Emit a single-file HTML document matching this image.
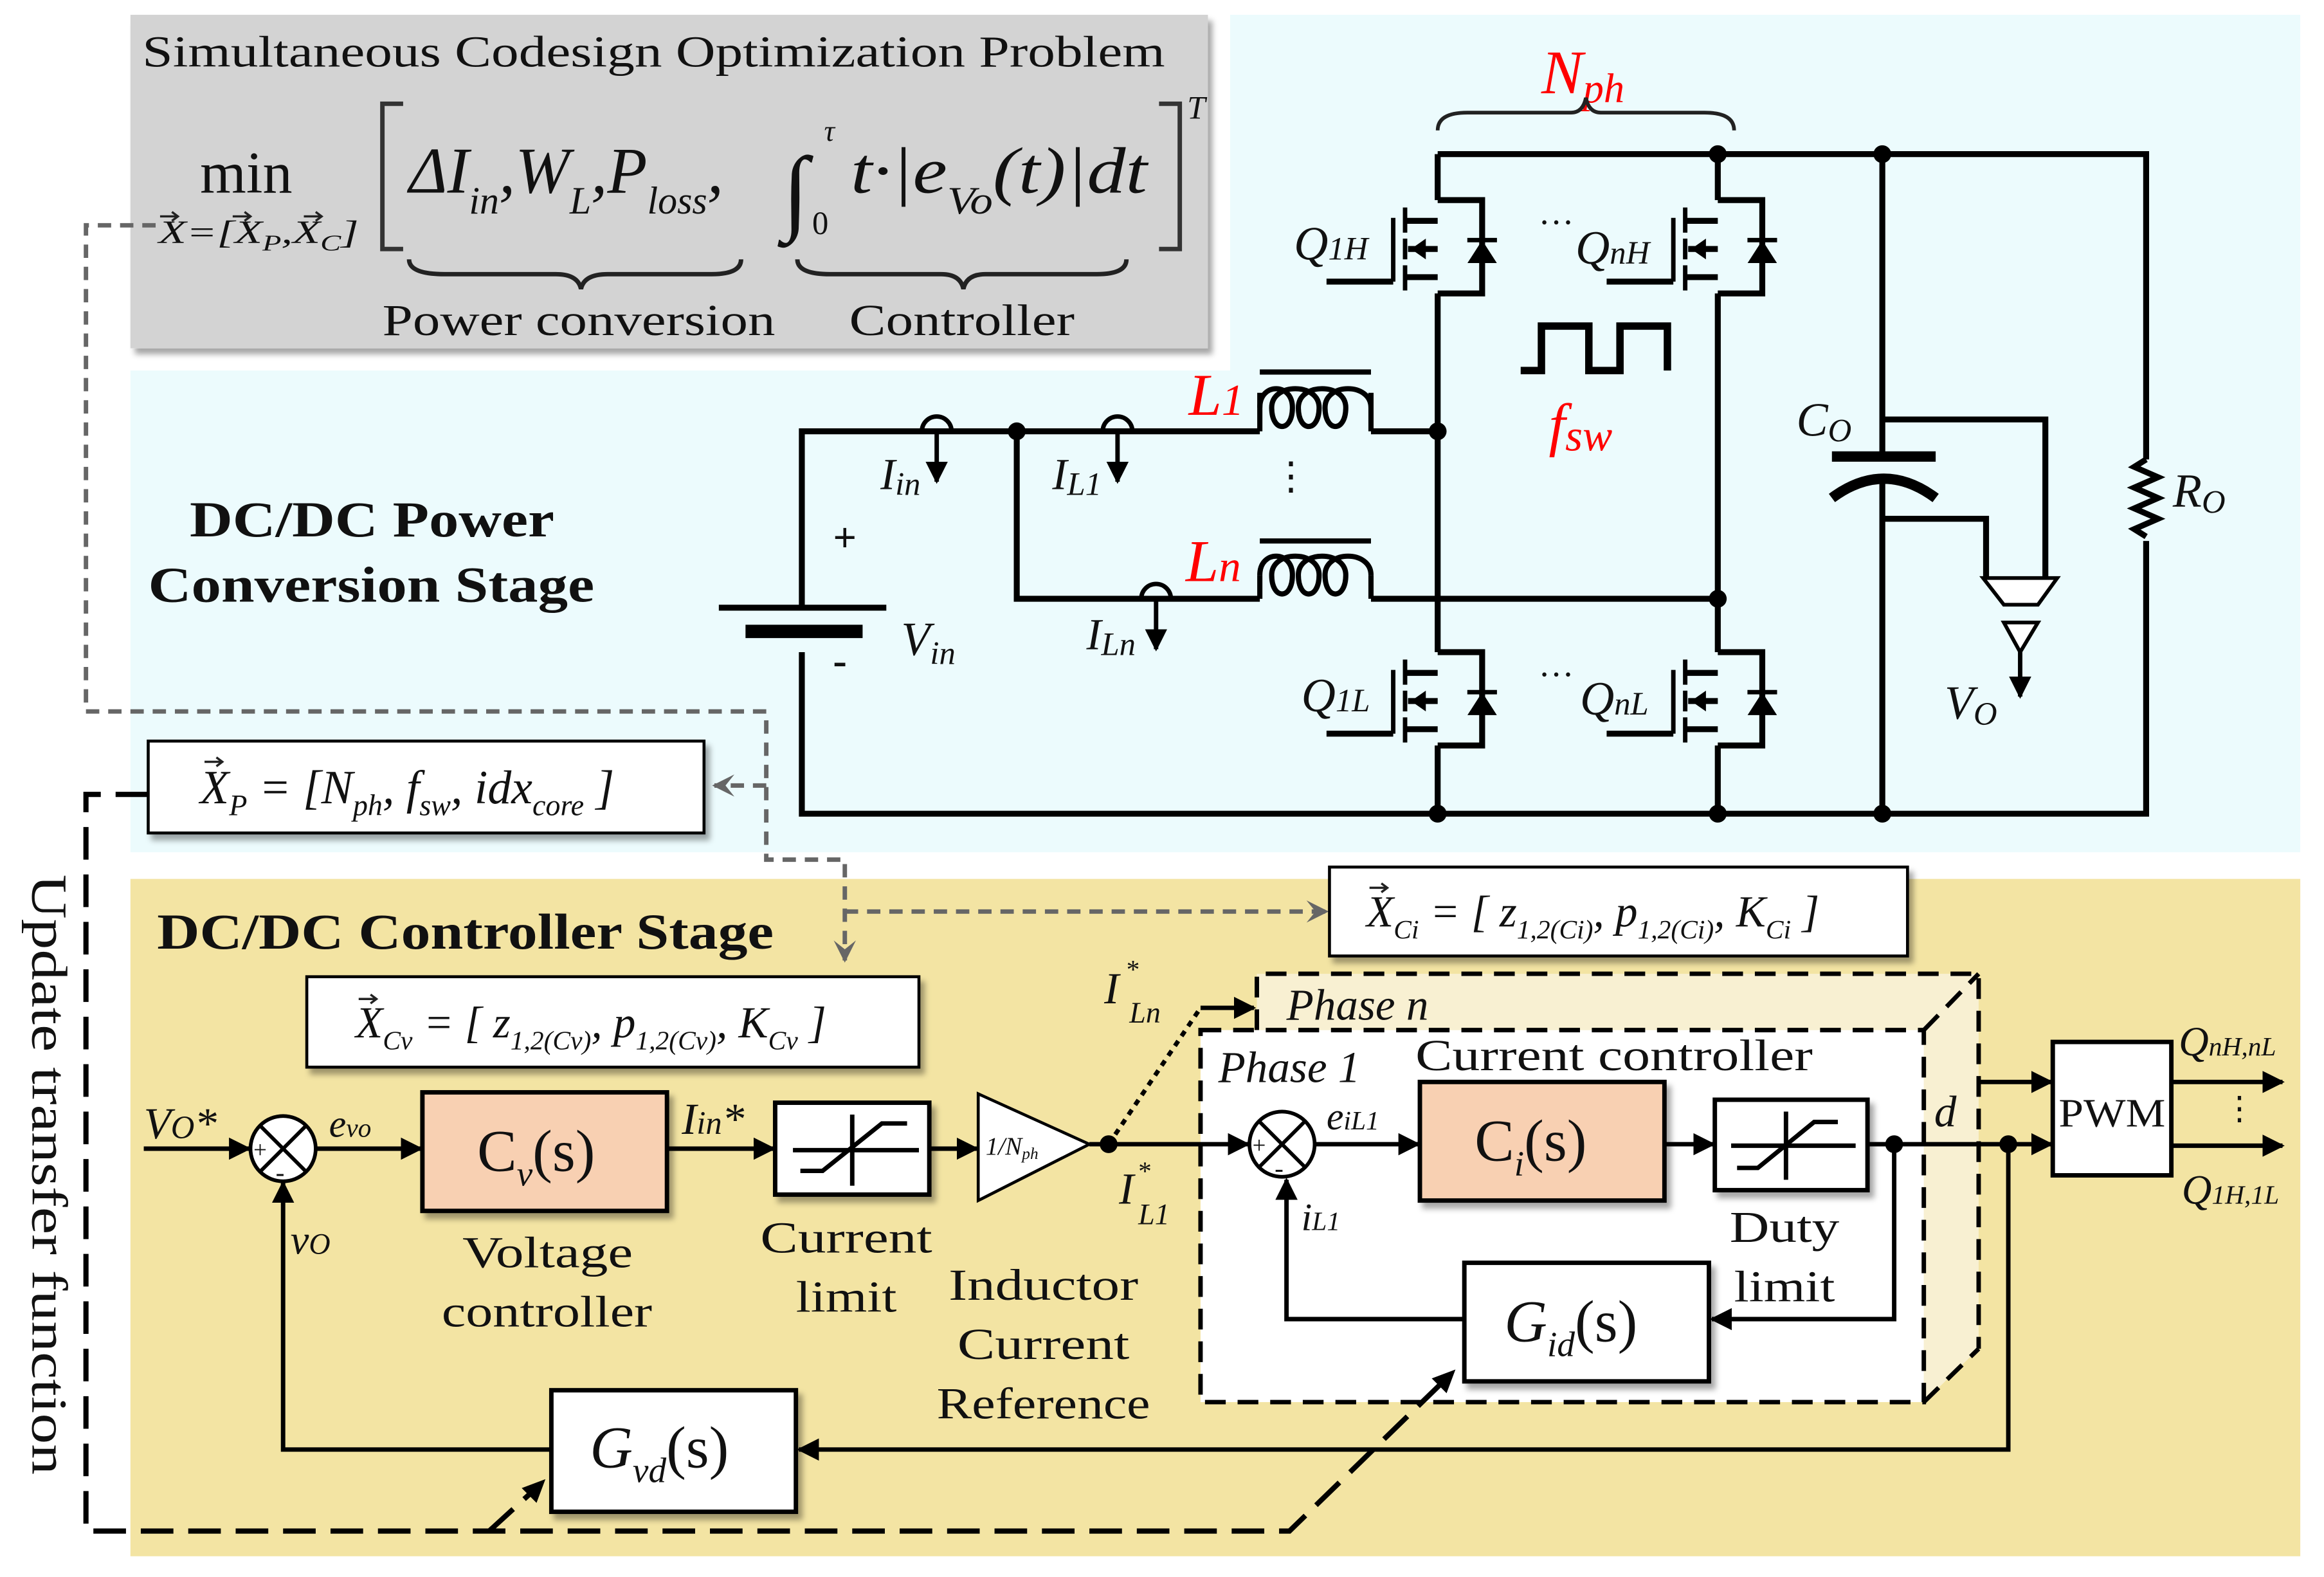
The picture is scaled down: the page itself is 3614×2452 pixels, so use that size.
<!DOCTYPE html>
<html><head><meta charset="utf-8"><style>
html,body{margin:0;padding:0;background:#fff;}
svg{display:block;}
text{font-family:"Liberation Serif",serif;fill:#111;}
.it{font-style:italic;}
</style></head><body>
<svg width="3614" height="2452" viewBox="0 0 1568 1064" preserveAspectRatio="none" xmlns="http://www.w3.org/2000/svg">
<defs>
<marker id="ar" viewBox="0 0 10 10" refX="9" refY="5" markerWidth="5" markerHeight="5" orient="auto-start-reverse"><path d="M0,0 L10,5 L0,10 z" fill="#000"/></marker>
<marker id="ag" viewBox="0 0 10 10" refX="9" refY="5" markerWidth="5" markerHeight="5" orient="auto"><path d="M0,0 L10,5 L0,10 L4,5 z" fill="#666"/></marker>
<filter id="sh" x="-10%" y="-10%" width="130%" height="140%"><feDropShadow dx="3" dy="4" stdDeviation="2" flood-color="#000" flood-opacity="0.35"/></filter>
<g id="mos" stroke="#000" stroke-width="4" fill="none">
<path d="M0,0 H30 V63 H0"/>
<polygon points="21,42 39,42 30,28" fill="#000" stroke-width="1"/>
<line x1="20" y1="27" x2="40" y2="27" stroke-width="3"/>
<line x1="-30" y1="12" x2="-30" y2="55" stroke-width="3"/>
<line x1="-75" y1="55" x2="-30" y2="55"/>
<line x1="-22" y1="5" x2="-22" y2="22" stroke-width="3"/>
<line x1="-22" y1="26" x2="-22" y2="40" stroke-width="3"/>
<line x1="-22" y1="44" x2="-22" y2="61" stroke-width="3"/>
<path d="M-22,14 H0 M-22,52 H0 M-20,33 H0"/>
<polygon points="-18,33 -8,26 -8,40" fill="#000" stroke="none"/>
</g>
<g id="vec"><path d="M0,0 H12 M8,-3 L12,0 L8,3" stroke="#222" stroke-width="1.5" fill="none"/></g>
</defs>
<rect width="1568" height="1064" fill="#fff"/>
<path d="M830,10 H1552 V575 H88 V250 H830 Z" fill="#ecfbfd"/>
<rect x="88" y="593" width="1464" height="457" fill="#f3e4a3"/>
<rect x="88" y="10" width="727" height="225" fill="#d3d3d3" filter="url(#sh)"/>
<text x="96" y="45" font-size="30" textLength="690" lengthAdjust="spacingAndGlyphs">Simultaneous Codesign Optimization Problem</text>
<text x="135" y="130" font-size="40">min</text>
<text x="107" y="164" font-size="22" class="it" textLength="135" lengthAdjust="spacingAndGlyphs">X=[X<tspan font-size="15" dy="5">P</tspan><tspan dy="-5">,X</tspan><tspan font-size="15" dy="5">C</tspan><tspan dy="-5">]</tspan></text>
<use href="#vec" x="108" y="146"/><use href="#vec" x="157" y="146"/><use href="#vec" x="205" y="146"/>
<path d="M272,70 H258 V168 H272 M782,70 H796 V168 H782" stroke="#333" stroke-width="3" fill="none"/>
<text x="801" y="80" font-size="22" class="it">T</text>
<text x="276" y="130" font-size="44" class="it">ΔI<tspan font-size="26" dy="14">in</tspan><tspan dy="-14">,W</tspan><tspan font-size="26" dy="14">L</tspan><tspan dy="-14">,P</tspan><tspan font-size="26" dy="14">loss</tspan><tspan dy="-14">,</tspan></text>
<text x="528" y="150" font-size="64" class="it">∫</text>
<text x="556" y="95" font-size="20" class="it">τ</text>
<text x="548" y="158" font-size="22">0</text>
<text x="574" y="130" font-size="44" class="it" textLength="200" lengthAdjust="spacingAndGlyphs">t·|e<tspan font-size="26" dy="14">Vo</tspan><tspan dy="-14">(t)|dt</tspan></text>
<path d="M276,175 Q276,185 300,185 H375 Q390,185 392,195 Q394,185 410,185 H480 Q500,185 500,175" stroke="#222" stroke-width="3" fill="none"/>
<path d="M538,175 Q538,185 560,185 H635 Q648,185 650,195 Q652,185 665,185 H740 Q760,185 760,175" stroke="#222" stroke-width="3" fill="none"/>
<text x="258" y="226" font-size="30" textLength="265" lengthAdjust="spacingAndGlyphs">Power conversion</text>
<text x="573" y="226" font-size="30" textLength="152" lengthAdjust="spacingAndGlyphs">Controller</text>
<text x="128" y="362" font-size="34" font-weight="bold" textLength="246" lengthAdjust="spacingAndGlyphs">DC/DC Power</text>
<text x="100" y="406" font-size="34" font-weight="bold" textLength="301" lengthAdjust="spacingAndGlyphs">Conversion Stage</text>
<text x="1040" y="63" font-size="42" style="fill:#f00" class="it">N<tspan font-size="28" dy="6" style="fill:#f00">ph</tspan></text>
<path d="M970,88 Q970,76 990,76 H1060 Q1068,76 1070,66 Q1072,76 1080,76 H1150 Q1170,76 1170,88" stroke="#222" stroke-width="2.5" fill="none"/>
<g stroke="#000" stroke-width="4" fill="none">
<path d="M970,104 H1448 V310 M1448,365 V549 H541 V440 M541,410 V291 H850 M925,291 H970 M686,291 V404 H850 M925,404 H1159"/>
<path d="M970,104 V135 M970,198 V440 M970,503 V549"/>
<path d="M1159,104 V135 M1159,198 V440 M1159,503 V549"/>
<path d="M1270,104 V306 M1270,324 V549"/>
<path d="M1448,310 l-8,5 l16,7 l-16,7 l16,7 l-16,7 l16,7 l-16,7 l8,5"/>
<path d="M1270,283 H1380 V390 M1270,350 H1340 V390"/>
<path d="M1026,250 H1040 V220 H1072 V250 H1093 V220 H1125 V250" stroke-width="5"/>
</g>
<line x1="1236" y1="308" x2="1306" y2="308" stroke="#000" stroke-width="7"/>
<path d="M1236,336 Q1271,310 1306,336" stroke="#000" stroke-width="7" fill="none"/>
<line x1="485" y1="410" x2="598" y2="410" stroke="#000" stroke-width="4"/>
<line x1="503" y1="426" x2="582" y2="426" stroke="#000" stroke-width="9"/>
<text x="562" y="372" font-size="28" font-weight="bold">+</text>
<text x="562" y="455" font-size="28" font-weight="bold">-</text>
<text x="608" y="442" font-size="32" class="it">V<tspan font-size="22" dy="6">in</tspan></text>
<path d="M1338,390 H1388 L1375,408 H1352 Z" fill="#fff" stroke="#000" stroke-width="2.5"/>
<path d="M1352,420 H1375 L1363,440 Z" fill="#fff" stroke="#000" stroke-width="2.5"/>
<line x1="1363" y1="440" x2="1363" y2="470" stroke="#000" stroke-width="3" marker-end="url(#ar)"/>
<text x="1312" y="485" font-size="32" class="it">V<tspan font-size="22" dy="4">O</tspan></text>
<text x="1212" y="294" font-size="32" class="it">C<tspan font-size="22" dy="4">O</tspan></text>
<text x="1466" y="342" font-size="32" class="it">R<tspan font-size="22" dy="4">O</tspan></text>
<g stroke="#000" stroke-width="3.5" fill="none">
<path d="M850,291 V265 M850,251 H925 M925,265 V291"/>
<path d="M850,275 C850,258 872,258 872,275 C872,292 858,292 858,275 C858,258 890,258 890,275 C890,292 876,292 876,275 C876,258 908,258 908,275 C908,292 894,292 894,275 C894,258 925,258 925,275"/>
<path d="M850,404 V388 M850,365 H925 M925,388 V404"/>
<path d="M850,388 C850,371 872,371 872,388 C872,405 858,405 858,388 C858,371 890,371 890,388 C890,405 876,405 876,388 C876,371 908,371 908,388 C908,405 894,405 894,388 C894,371 925,371 925,388"/>
</g>
<text x="802" y="280" font-size="40" style="fill:#f00" class="it">L<tspan font-size="30" style="fill:#f00">1</tspan></text>
<text x="800" y="392" font-size="40" style="fill:#f00" class="it">L<tspan font-size="30" style="fill:#f00">n</tspan></text>
<text x="858" y="330" font-size="26">⋮</text>
<text x="1045" y="300" font-size="40" style="fill:#f00" class="it">f<tspan font-size="30" dy="4" style="fill:#f00">sw</tspan></text>
<g stroke="#000" stroke-width="3" fill="none">
<path d="M622,291 A10,10 0 0 1 642,291"/><line x1="632" y1="291" x2="632" y2="325" marker-end="url(#ar)"/>
<path d="M744,291 A10,10 0 0 1 764,291"/><line x1="754" y1="291" x2="754" y2="325" marker-end="url(#ar)"/>
<path d="M770,404 A10,10 0 0 1 790,404"/><line x1="780" y1="404" x2="780" y2="438" marker-end="url(#ar)"/>
</g>
<text x="594" y="330" font-size="30" class="it">I<tspan font-size="22" dy="4">in</tspan></text>
<text x="710" y="330" font-size="30" class="it">I<tspan font-size="22" dy="4">L1</tspan></text>
<text x="733" y="438" font-size="30" class="it">I<tspan font-size="22" dy="4">Ln</tspan></text>
<use href="#mos" x="970" y="135"/>
<use href="#mos" x="1159" y="135"/>
<use href="#mos" x="970" y="440"/>
<use href="#mos" x="1159" y="440"/>
<text x="873" y="175" font-size="32" class="it">Q<tspan font-size="22">1H</tspan></text>
<text x="1038" y="158" font-size="24">···</text>
<text x="1063" y="178" font-size="32" class="it">Q<tspan font-size="22">nH</tspan></text>
<text x="878" y="480" font-size="32" class="it">Q<tspan font-size="22">1L</tspan></text>
<text x="1038" y="463" font-size="24">···</text>
<text x="1066" y="482" font-size="32" class="it">Q<tspan font-size="22">nL</tspan></text>
<g fill="#000">
<circle cx="1159" cy="104" r="6"/><circle cx="1270" cy="104" r="6"/>
<circle cx="686" cy="291" r="6"/><circle cx="970" cy="291" r="6"/>
<circle cx="1159" cy="404" r="6"/><circle cx="970" cy="549" r="6"/>
<circle cx="1159" cy="549" r="6"/><circle cx="1270" cy="549" r="6"/>
</g>
<g stroke="#666" stroke-width="3" fill="none" stroke-dasharray="9,6">
<path d="M105,152 H58 V480 H517 V580 H570 V648" marker-end="url(#ag)"/>
<path d="M517,530 H482" marker-end="url(#ag)"/>
<path d="M570,615 H895" marker-end="url(#ag)"/>
</g>
<rect x="100" y="500" width="375" height="62" fill="#fff" stroke="#000" stroke-width="2" filter="url(#sh)"/>
<text x="135" y="542" font-size="32" class="it">X<tspan font-size="20" dy="8">P</tspan><tspan dy="-8"> = [N</tspan><tspan font-size="20" dy="8">ph</tspan><tspan dy="-8">, f</tspan><tspan font-size="20" dy="8">sw</tspan><tspan dy="-8">, idx</tspan><tspan font-size="20" dy="8">core</tspan><tspan dy="-8"> ]</tspan></text>
<use href="#vec" x="138" y="514"/>
<rect x="207" y="659" width="413" height="61" fill="#fff" stroke="#000" stroke-width="2" filter="url(#sh)"/>
<text x="240" y="700" font-size="30" class="it">X<tspan font-size="18" dy="8">Cv</tspan><tspan dy="-8"> = [ z</tspan><tspan font-size="18" dy="8">1,2(Cv)</tspan><tspan dy="-8">, p</tspan><tspan font-size="18" dy="8">1,2(Cv)</tspan><tspan dy="-8">, K</tspan><tspan font-size="18" dy="8">Cv</tspan><tspan dy="-8"> ]</tspan></text>
<use href="#vec" x="242" y="674"/>
<rect x="897" y="585" width="390" height="60" fill="#fff" stroke="#000" stroke-width="2" filter="url(#sh)"/>
<text x="922" y="625" font-size="30" class="it">X<tspan font-size="18" dy="8">Ci</tspan><tspan dy="-8"> = [ z</tspan><tspan font-size="18" dy="8">1,2(Ci)</tspan><tspan dy="-8">, p</tspan><tspan font-size="18" dy="8">1,2(Ci)</tspan><tspan dy="-8">, K</tspan><tspan font-size="18" dy="8">Ci</tspan><tspan dy="-8"> ]</tspan></text>
<use href="#vec" x="924" y="599"/>
<text x="106" y="640" font-size="34" font-weight="bold" textLength="416" lengthAdjust="spacingAndGlyphs">DC/DC Controller Stage</text>
<text transform="translate(22,590) rotate(90)" font-size="34" textLength="405" lengthAdjust="spacingAndGlyphs">Update transfer function</text>
<path d="M848,657 H1335 V910 L1298,946 V695 H848 Z" fill="#f8f0d2"/>
<path d="M848,695 V657 H1335 V910 M1298,695 L1335,657 M1298,946 L1335,910" stroke="#000" stroke-width="3" fill="none" stroke-dasharray="14,8"/>
<rect x="810" y="695" width="488" height="251" fill="#fff" stroke="#000" stroke-width="3" stroke-dasharray="14,8"/>
<text x="868" y="688" font-size="30" class="it">Phase n</text>
<text x="822" y="730" font-size="30" class="it">Phase 1</text>
<text x="955" y="722" font-size="30" textLength="268" lengthAdjust="spacingAndGlyphs">Current controller</text>
<rect x="285" y="737" width="165" height="80" fill="#f8d0b2" stroke="#000" stroke-width="3" filter="url(#sh)"/>
<text x="322" y="790" font-size="40">C<tspan font-size="24" dy="10" class="it">v</tspan><tspan dy="-10">(s)</tspan></text>
<rect x="958" y="730" width="165" height="80" fill="#f8d0b2" stroke="#000" stroke-width="3" filter="url(#sh)"/>
<text x="995" y="783" font-size="40">C<tspan font-size="24" dy="10" class="it">i</tspan><tspan dy="-10">(s)</tspan></text>
<rect x="523" y="744" width="104" height="62" fill="#fff" stroke="#000" stroke-width="3" filter="url(#sh)"/>
<path d="M540,790 H555 L595,758 H612 M535,776 H620 M575,752 V800" stroke="#000" stroke-width="3" fill="none"/>
<rect x="1157" y="742" width="103" height="61" fill="#fff" stroke="#000" stroke-width="3" filter="url(#sh)"/>
<path d="M1172,788 H1186 L1224,757 H1240 M1168,773 H1252 M1205,750 V796" stroke="#000" stroke-width="3" fill="none"/>
<polygon points="660,738 660,810 735,772" fill="#fff" stroke="#000" stroke-width="2"/>
<text x="665" y="779" font-size="17" class="it">1/N<tspan font-size="11" dy="3">ph</tspan></text>
<rect x="988" y="852" width="165" height="80" fill="#fff" stroke="#000" stroke-width="3" filter="url(#sh)"/>
<text x="1015" y="905" font-size="40" class="it">G<tspan font-size="24" dy="10">id</tspan><tspan dy="-10" font-style="normal">(s)</tspan></text>
<rect x="372" y="938" width="165" height="82" fill="#fff" stroke="#000" stroke-width="3" filter="url(#sh)"/>
<text x="398" y="990" font-size="40" class="it">G<tspan font-size="24" dy="10">vd</tspan><tspan dy="-10" font-style="normal">(s)</tspan></text>
<rect x="1385" y="703" width="80" height="90" fill="#fff" stroke="#000" stroke-width="3"/>
<text x="1389" y="760" font-size="27" textLength="72" lengthAdjust="spacingAndGlyphs">PWM</text>
<g stroke="#000" stroke-width="2.5" fill="#fff">
<circle cx="191" cy="775" r="22"/><circle cx="865" cy="772" r="22"/>
<path d="M176,760 L206,790 M206,760 L176,790 M850,757 L880,787 M880,757 L850,787" fill="none"/>
</g>
<text x="171" y="781" font-size="16">+</text><text x="186" y="797" font-size="18">-</text>
<text x="845" y="778" font-size="16">+</text><text x="860" y="794" font-size="18">-</text>
<g stroke="#000" stroke-width="3" fill="none">
<path d="M97,775 H168" marker-end="url(#ar)"/>
<path d="M213,775 H284" marker-end="url(#ar)"/>
<path d="M450,775 H522" marker-end="url(#ar)"/>
<path d="M627,775 H659" marker-end="url(#ar)"/>
<path d="M735,772 H842" marker-end="url(#ar)"/>
<path d="M887,772 H957" marker-end="url(#ar)"/>
<path d="M1123,772 H1156" marker-end="url(#ar)"/>
<path d="M1260,772 H1384" marker-end="url(#ar)"/>
<path d="M1335,730 H1384" marker-end="url(#ar)"/>
<path d="M1465,730 H1540" marker-end="url(#ar)"/>
<path d="M1465,773 H1540" marker-end="url(#ar)"/>
<path d="M1278,772 V890 H1155" marker-end="url(#ar)"/>
<path d="M988,890 H868 V796" marker-end="url(#ar)"/>
<path d="M1355,772 V978 H539" marker-end="url(#ar)"/>
<path d="M372,978 H191 V798" marker-end="url(#ar)"/>
<path d="M748,772 L810,680" stroke-dasharray="4,4"/>
<path d="M810,680 H846" marker-end="url(#ar)"/>
</g>
<circle cx="748" cy="772" r="6"/><circle cx="1278" cy="772" r="6"/><circle cx="1355" cy="772" r="6"/>
<g stroke="#000" stroke-width="3.5" fill="none" stroke-dasharray="22,10">
<path d="M100,536 H58 V1033 H870 L978,928"/>
<path d="M330,1033 L364,1002"/>
</g>
<polygon points="368,998 352,1004 362,1014" fill="#000"/>
<polygon points="982,924 966,930 976,940" fill="#000"/>
<text x="97" y="768" font-size="30" class="it">V<tspan font-size="22">O</tspan>*</text>
<text x="222" y="767" font-size="26" class="it">e<tspan font-size="18">vo</tspan></text>
<text x="196" y="846" font-size="28" class="it">v<tspan font-size="20">O</tspan></text>
<text x="460" y="765" font-size="30" class="it">I<tspan font-size="22">in</tspan>*</text>
<text x="312" y="855" font-size="30" textLength="115" lengthAdjust="spacingAndGlyphs">Voltage</text>
<text x="298" y="895" font-size="30" textLength="142" lengthAdjust="spacingAndGlyphs">controller</text>
<text x="513" y="845" font-size="30" textLength="116" lengthAdjust="spacingAndGlyphs">Current</text>
<text x="537" y="885" font-size="30" textLength="68" lengthAdjust="spacingAndGlyphs">limit</text>
<text x="640" y="877" font-size="30" textLength="128" lengthAdjust="spacingAndGlyphs">Inductor</text>
<text x="646" y="917" font-size="30" textLength="116" lengthAdjust="spacingAndGlyphs">Current</text>
<text x="632" y="957" font-size="30" textLength="144" lengthAdjust="spacingAndGlyphs">Reference</text>
<text x="745" y="677" font-size="30" class="it">I</text><text x="760" y="660" font-size="18">*</text><text x="762" y="690" font-size="20" class="it">Ln</text>
<text x="755" y="812" font-size="30" class="it">I</text><text x="768" y="796" font-size="18">*</text><text x="768" y="826" font-size="20" class="it">L1</text>
<text x="895" y="762" font-size="26" class="it">e<tspan font-size="18">iL1</tspan></text>
<text x="878" y="830" font-size="26" class="it">i<tspan font-size="18">L1</tspan></text>
<text x="1167" y="838" font-size="30" textLength="74" lengthAdjust="spacingAndGlyphs">Duty</text>
<text x="1170" y="878" font-size="30" textLength="68" lengthAdjust="spacingAndGlyphs">limit</text>
<text x="1305" y="760" font-size="30" class="it">d</text>
<text x="1470" y="712" font-size="28" class="it">Q<tspan font-size="18">nH,nL</tspan></text>
<text x="1472" y="812" font-size="28" class="it">Q<tspan font-size="18">1H,1L</tspan></text>
<text x="1500" y="755" font-size="22">⋮</text>
</svg>
</body></html>
